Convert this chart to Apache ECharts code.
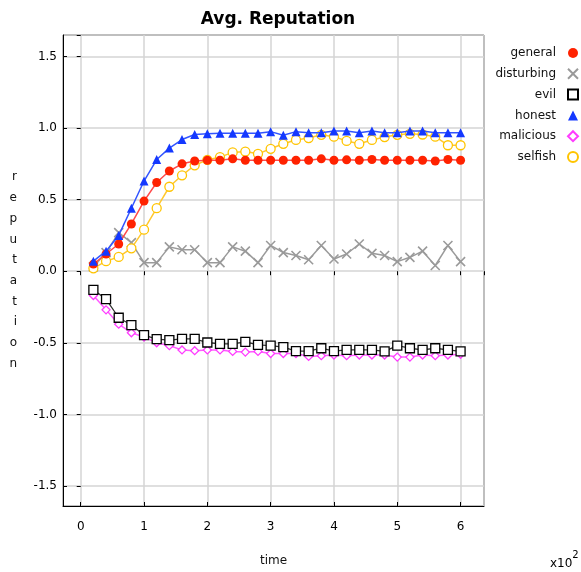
<!DOCTYPE html>
<html>
<head>
<meta charset="utf-8">
<script src="https://cdn.jsdelivr.net/npm/echarts@6/dist/echarts.min.js"></script>
<style>html,body{margin:0;padding:0;background:#fff}#c{width:581px;height:572px}</style>
</head>
<body>
<div id="c"></div>
<script>
var times = [0.2,0.4,0.6,0.8,1.0,1.2,1.4,1.6,1.8,2.0,2.2,2.4,2.6,2.8,3.0,3.2,3.4,3.6,3.8,4.0,4.2,4.4,4.6,4.8,5.0,5.2,5.4,5.6,5.8,6.0];
var general = [0.05,0.12,0.19,0.33,0.49,0.62,0.70,0.75,0.77,0.775,0.775,0.785,0.775,0.775,0.775,0.775,0.775,0.775,0.785,0.775,0.778,0.775,0.78,0.775,0.775,0.775,0.775,0.77,0.78,0.775];
var disturbing = [0.03,0.13,0.27,0.20,0.06,0.06,0.17,0.15,0.15,0.06,0.06,0.17,0.14,0.06,0.18,0.13,0.11,0.08,0.18,0.085,0.12,0.19,0.125,0.11,0.067,0.097,0.14,0.04,0.18,0.067];
var evil = [-0.13,-0.195,-0.325,-0.376,-0.447,-0.474,-0.482,-0.473,-0.473,-0.498,-0.508,-0.508,-0.494,-0.515,-0.52,-0.53,-0.558,-0.558,-0.538,-0.558,-0.55,-0.55,-0.55,-0.56,-0.52,-0.538,-0.55,-0.538,-0.55,-0.56];
var honest = [0.07,0.14,0.25,0.44,0.63,0.78,0.86,0.92,0.955,0.96,0.963,0.963,0.963,0.963,0.975,0.95,0.975,0.968,0.968,0.98,0.98,0.968,0.98,0.968,0.968,0.98,0.98,0.968,0.968,0.968];
var malicious = [-0.17,-0.27,-0.37,-0.43,-0.46,-0.50,-0.52,-0.55,-0.555,-0.55,-0.55,-0.56,-0.565,-0.56,-0.575,-0.575,-0.575,-0.595,-0.59,-0.585,-0.59,-0.585,-0.585,-0.585,-0.6,-0.6,-0.585,-0.59,-0.585,-0.58];
var selfish = [0.02,0.07,0.10,0.16,0.29,0.44,0.59,0.67,0.74,0.778,0.797,0.83,0.836,0.82,0.855,0.89,0.917,0.93,0.953,0.94,0.91,0.89,0.917,0.937,0.953,0.96,0.955,0.94,0.88,0.88];

function pairs(arr){ return times.map(function(t,i){ return [t, arr[i]]; }); }

var font = 'DejaVu Sans';
var xPath = 'path://M0,0L10,10M10,0L0,10';
var chart = echarts.init(document.getElementById('c'));
var xBase = { type:'value', min:-0.28, max:6.37, splitNumber:6 };
var yBase = { type:'value', min:-1.64, max:1.65, splitNumber:6 };
var tick = {show:true, inside:true, length:4, lineStyle:{color:'#000', width:1}};
chart.setOption({
  animation:false,
  backgroundColor:'#fff',
  title:{text:'Avg. Reputation', left:273, top:6, textAlign:'center',
    textStyle:{fontFamily:font, fontSize:17, fontWeight:'bold', color:'#000'}},
  legend:{
    orient:'vertical', right:-3, top:42, align:'right', itemWidth:10, itemHeight:10, itemGap:8.8,
    textStyle:{fontFamily:font, fontSize:12, color:'#111', padding:[0,7,0,0]},
    data:[
      {name:'general', icon:'circle'},
      {name:'disturbing', icon:xPath},
      {name:'evil', icon:'rect'},
      {name:'honest', icon:'triangle'},
      {name:'malicious', icon:'diamond'},
      {name:'selfish', icon:'circle'}
    ]
  },
  grid:{left:63, right:97, top:35, bottom:61, show:true, borderColor:'#000', borderWidth:1, containLabel:false},
  xAxis:[
    Object.assign({}, xBase, {
      position:'bottom', name:'time', nameLocation:'middle', nameGap:49,
      nameTextStyle:{fontFamily:font, fontSize:12, color:'#111'},
      axisLine:{show:true, onZero:false, lineStyle:{color:'#000'}}, axisTick:tick,
      axisLabel:{fontFamily:font, fontSize:12, color:'#000', margin:15, showMinLabel:false, showMaxLabel:false},
      splitLine:{show:true, lineStyle:{color:'#d4d4d4', width:1.5}}
    }),
    Object.assign({}, xBase, {
      position:'top', axisLine:{show:false}, axisTick:tick, axisLabel:{show:false}, splitLine:{show:false}
    })
  ],
  yAxis:[
    Object.assign({}, yBase, {
      position:'left', name:'r\ne\np\nu\nt\na\nt\ni\no\nn', nameLocation:'middle', nameRotate:0, nameGap:46,
      nameTextStyle:{fontFamily:font, fontSize:12, color:'#111', lineHeight:20.7},
      axisLine:{show:true, onZero:false, lineStyle:{color:'#000'}}, axisTick:tick,
      axisLabel:{fontFamily:font, fontSize:12, color:'#000', margin:6, showMinLabel:false, showMaxLabel:false,
        formatter:function(v){ return v.toFixed(1); }},
      splitLine:{show:true, lineStyle:{color:'#d4d4d4', width:1.5}}
    }),
    Object.assign({}, yBase, {
      position:'right', axisLine:{show:false}, axisTick:tick, axisLabel:{show:false}, splitLine:{show:false}
    })
  ],
  graphic:[
    {type:'text', left:550, top:550, style:{
      text:'{a|x10}{b|2}', rich:{
        a:{fontFamily:font, fontSize:12, fill:'#000', padding:[8,0,0,0]},
        b:{fontFamily:font, fontSize:10, fill:'#000', verticalAlign:'top'}
      }}}
  ],
  series:[
    {name:'disturbing', type:'line', data:pairs(disturbing), symbol:xPath, symbolSize:9,
      itemStyle:{color:'rgba(0,0,0,0)', borderColor:'#9a9a9a', borderWidth:1.6},
      lineStyle:{color:'#9a9a9a', width:1.5}, z:2},
    {name:'selfish', type:'line', data:pairs(selfish), symbol:'circle', symbolSize:9,
      itemStyle:{color:'#fff', borderColor:'#ffc400', borderWidth:1.3}, lineStyle:{color:'#ffc830', width:1.5}, z:3},
    {name:'general', type:'line', data:pairs(general), symbol:'circle', symbolSize:9,
      itemStyle:{color:'#ff2200'}, lineStyle:{color:'#ff4a4a', width:1.5}, z:4},
    {name:'honest', type:'line', data:pairs(honest), symbol:'triangle', symbolSize:9,
      itemStyle:{color:'#1438ff'}, lineStyle:{color:'#3355ff', width:1.5}, z:5},
    {name:'malicious', type:'line', data:pairs(malicious), symbol:'diamond', symbolSize:8,
      itemStyle:{color:'#fff', borderColor:'#ff3cff', borderWidth:1.3}, lineStyle:{color:'#ff5cff', width:1.5}, z:6},
    {name:'evil', type:'line', data:pairs(evil), symbol:'rect', symbolSize:9,
      itemStyle:{color:'#fff', borderColor:'#000', borderWidth:1.3}, lineStyle:{color:'#333', width:1.3}, z:7}
  ]
});
</script>
</body>
</html>
